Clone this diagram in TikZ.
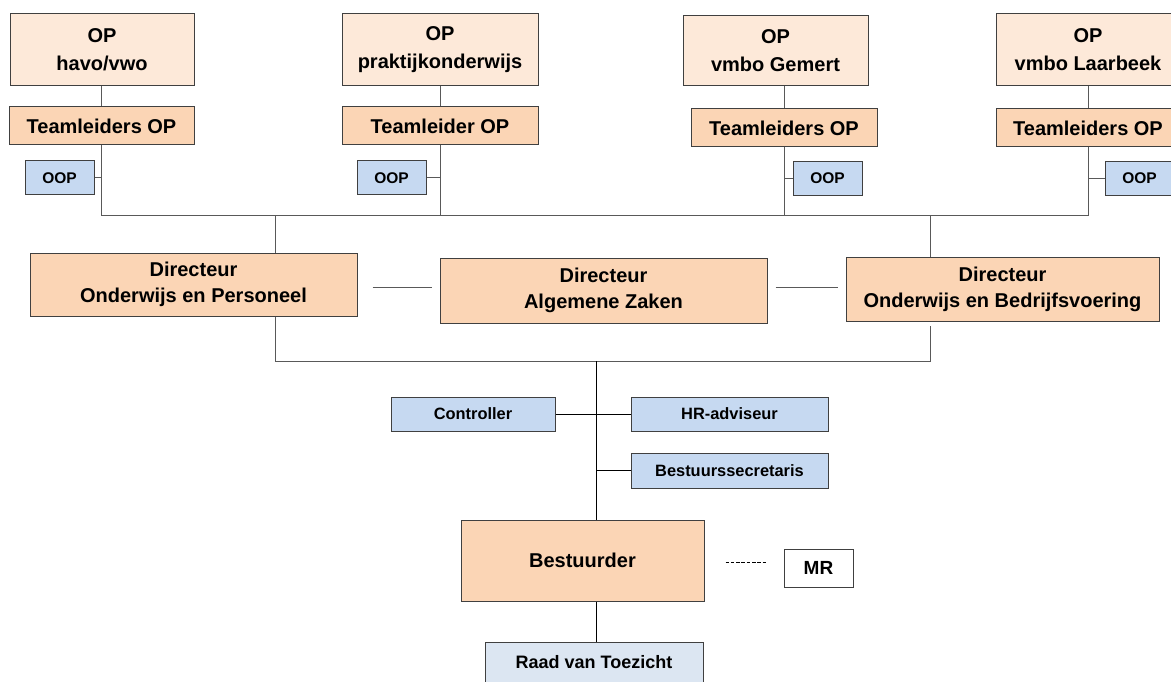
\documentclass[tikz,border=0pt]{standalone}
\usepackage{fontspec}
\setmainfont{Liberation Sans}
\usetikzlibrary{positioning,calc}
\definecolor{opfill}{HTML}{FDE9D9}
\definecolor{leidfill}{HTML}{FBD5B5}
\definecolor{stafffill}{HTML}{C6D9F1}
\definecolor{raadfill}{HTML}{DCE6F2}
\definecolor{randkleur}{HTML}{404040}

\begin{document}
\begin{tikzpicture}[x=1pt,y=-1pt,
   box/.style={draw=randkleur, line width=1pt, inner sep=0pt, align=center},
   opbox/.style={box, fill=opfill, minimum height=72pt, font=\bfseries\fontsize{20}{28}\selectfont},
   leidbox/.style={box, fill=leidfill, minimum height=38pt, font=\bfseries\fontsize{20}{24}\selectfont},
   oopbox/.style={box, fill=stafffill, minimum width=69pt, minimum height=34pt, font=\bfseries\fontsize{15.5}{18}\selectfont},
   dirbox/.style={box, fill=leidfill, minimum height=64pt, font=\bfseries\fontsize{20}{26}\selectfont},
   staffbox/.style={box, fill=stafffill, minimum height=34pt, font=\bfseries\fontsize{16.4}{20}\selectfont},
   lijn/.style={draw=black!65, line width=1pt},
   spil/.style={draw=black, line width=1pt}]
   \useasboundingbox (0,0) rectangle (1171,682);

   % onderwijsteams
   \node[opbox, minimum width=184pt] (op1) at (102,50) {OP\\havo/vwo};
   \node[opbox, minimum width=196pt] (op2) at (440,50) {OP\\praktijkonderwijs};
   \node[opbox, minimum width=185pt, minimum height=70pt] (op3) at (775.5,51) {OP\\vmbo Gemert};
   \node[opbox, minimum width=184pt] (op4) at (1088,50) {OP\\vmbo Laarbeek};

   \node[leidbox, minimum width=185pt] (tl1) at (101.5,126) {Teamleiders OP};
   \node[leidbox, minimum width=196pt] (tl2) at (440,126) {Teamleider OP};
   \node[leidbox, minimum width=186pt] (tl3) at (784,128) {Teamleiders OP};
   \node[leidbox, minimum width=184pt] (tl4) at (1088,128) {Teamleiders OP};

   \node[oopbox] (oop1) at (59.5,178) {OOP};
   \node[oopbox] (oop2) at (391.5,178) {OOP};
   \node[oopbox] (oop3) at (827.5,178.5) {OOP};
   \node[oopbox] (oop4) at (1139.5,178.5) {OOP};

   % directie
   \node[dirbox, minimum width=327pt, minimum height=63pt] (dop) at (193.5,284.5) {Directeur\\Onderwijs en Personeel};
   \node[dirbox, minimum width=327pt, minimum height=65pt] (daz) at (603.5,290.5) {Directeur\\Algemene Zaken};
   \node[dirbox, minimum width=313pt] (dob) at (1002.5,289) {Directeur\\Onderwijs en Bedrijfsvoering};

   % bestuur
   \node[staffbox, minimum width=164pt] (ctrl) at (473,414) {Controller};
   \node[staffbox, minimum width=197pt] (hr) at (729.5,414) {HR-adviseur};
   \node[staffbox, minimum width=197pt, minimum height=35pt] (bs) at (729.5,470.5) {Bestuurssecretaris};
   \node[box, fill=leidfill, minimum width=243pt, minimum height=81pt, font=\bfseries\fontsize{20}{24}\selectfont] (best) at (582.5,560.5) {Bestuurder};
   \node[box, fill=white, minimum width=69pt, minimum height=38pt, font=\bfseries\fontsize{19}{22}\selectfont] (mr) at (818.5,568) {MR};
   \node[box, fill=raadfill, minimum width=218pt, minimum height=40pt, font=\bfseries\fontsize{18}{22}\selectfont] (rvt) at (594,662) {Raad van Toezicht};

   \coordinate (bus) at (105,216);
   \coordinate (tapL) at (275,216);
   \coordinate (tapR) at (930,216);
   \coordinate (lowL) at (275,361);
   \coordinate (lowR) at (930,361);
   \coordinate (spine) at (596,361);

   \foreach \i in {1,...,4}
      \draw[lijn] (op\i.south -| tl\i.north) -- (tl\i.north);
   \draw[lijn] (tl1.south) -- (tl1.south |- bus) -- (tl4.south |- bus) -- (tl4.south);
   \draw[lijn] (tl2.south) -- (tl2.south |- bus);
   \draw[lijn] (tl3.south) -- (tl3.south |- bus);
   \draw[lijn] (oop1.east) -- (oop1.east -| tl1.south);
   \draw[lijn] (oop2.east) -- (oop2.east -| tl2.south);
   \draw[lijn] (oop3.west) -- (oop3.west -| tl3.south);
   \draw[lijn] (oop4.west) -- (oop4.west -| tl4.south);

   \draw[lijn] (tapL) -- (dop.north -| tapL);
   \draw[lijn] (tapR) -- (dob.north -| tapR);
   \draw[lijn, shorten <=15pt, shorten >=8pt] (dop.east |- 0,287) -- (daz.west |- 0,287);
   \draw[lijn, shorten <=8pt, shorten >=8pt] (daz.east |- 0,287) -- (dob.west |- 0,287);
   \draw[lijn] (dop.south -| lowL) -- (lowL) -- (lowR) -- ([yshift=-4pt]dob.south -| lowR);

   \draw[spil] (spine) -- (spine |- best.north);
   \draw[spil] (ctrl.east) -- (hr.west);
   \draw[spil] (bs.west -| spine) -- (bs.west);
   \draw[spil] (best.south -| spine) -- (rvt.north -| spine);
   \draw[spil, line width=0.8pt, dash pattern=on 3.5pt off 1.8pt, shorten <=21pt, shorten >=16pt] (best.east |- 0,562) -- (mr.west |- 0,562);
\end{tikzpicture}
\end{document}
